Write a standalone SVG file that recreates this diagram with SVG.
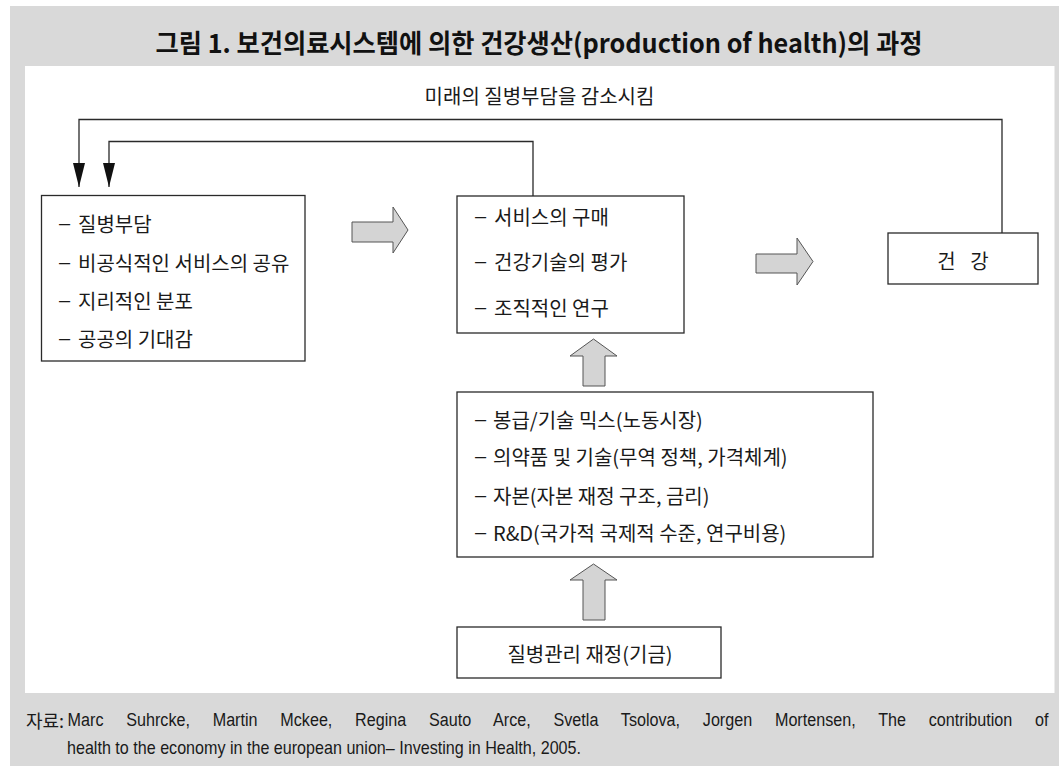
<svg xmlns="http://www.w3.org/2000/svg" width="1059" height="766" viewBox="0 0 1059 766">
<defs>
<style>
.kr{font-family:"Noto Sans CJK KR","Noto Sans",sans-serif;font-size:20px;fill:#1a1a1a}
.ttl{font-family:"Noto Sans CJK KR","Noto Sans",sans-serif;font-size:26px;font-weight:700;fill:#111}
.d{font-family:"Liberation Sans",sans-serif}
.box{fill:#fff;stroke:#2a2a2a;stroke-width:1.3}
.blk{fill:#d4d4d4;stroke:#555;stroke-width:1}
.conn{fill:none;stroke:#2a2a2a;stroke-width:1.3}
.src{font-family:"Liberation Sans","Noto Sans CJK KR",sans-serif;font-size:19px;fill:#1a1a1a}
.srck{font-family:"Noto Sans CJK KR",sans-serif;font-size:18px;fill:#1a1a1a}
</style>
<marker id="ah" markerUnits="userSpaceOnUse" viewBox="0 0 24 12" markerWidth="24" markerHeight="12" refX="24" refY="6" orient="auto">
<path d="M0,0 L24,6 L0,12 z" fill="#111"/>
</marker>
</defs>
<rect x="10" y="6" width="1049" height="760" fill="#d9d9d9"/>
<rect x="25" y="66" width="1029.5" height="627" fill="#fff"/>
<g id="title">
<text class="ttl" x="539" y="41" text-anchor="middle" dominant-baseline="central" textLength="767" lengthAdjust="spacingAndGlyphs">그림 1. 보건의료시스템에 의한 건강생산(production of health)의 과정</text>
</g>
<g id="connectors">
<text class="kr" x="539.5" y="95" text-anchor="middle" dominant-baseline="central">미래의 질병부담을 감소시킴</text>
<path class="conn" d="M1002,233 V119.5 H79 V187" marker-end="url(#ah)"/>
<path class="conn" d="M533,196 V141.5 H109 V187" marker-end="url(#ah)"/>
<polygon class="blk" points="352,222 393,222 393,207 408,230 393,253 393,242 352,242"/>
<polygon class="blk" points="756,254 797,254 797,238 813,261.5 797,285 797,273 756,273"/>
<polygon class="blk" points="583,386 583,356 570,356 593.5,339 617,356 605,356 605,386"/>
<polygon class="blk" points="583,620 583,580 570,580 593.5,564 617,580 605,580 605,620"/>
</g>
<g id="burden">
<rect class="box" x="41.5" y="195.5" width="263.5" height="165.5"/>
<text class="kr" y="223" dominant-baseline="central"><tspan class="d" x="59">– </tspan><tspan x="78">질병부담</tspan></text>
<text class="kr" y="262" dominant-baseline="central"><tspan class="d" x="59">– </tspan><tspan x="78">비공식적인 서비스의 공유</tspan></text>
<text class="kr" y="300" dominant-baseline="central"><tspan class="d" x="59">– </tspan><tspan x="78">지리적인 분포</tspan></text>
<text class="kr" y="338" dominant-baseline="central"><tspan class="d" x="59">– </tspan><tspan x="78">공공의 기대감</tspan></text>
</g>
<g id="services">
<rect class="box" x="457" y="196" width="227" height="137"/>
<text class="kr" y="216" dominant-baseline="central"><tspan class="d" x="475">– </tspan><tspan x="494">서비스의 구매</tspan></text>
<text class="kr" y="261" dominant-baseline="central"><tspan class="d" x="475">– </tspan><tspan x="494">건강기술의 평가</tspan></text>
<text class="kr" y="307" dominant-baseline="central"><tspan class="d" x="475">– </tspan><tspan x="494">조직적인 연구</tspan></text>
</g>
<g id="health">
<rect class="box" x="888" y="233" width="150" height="51"/>
<text class="kr" x="963" y="260" text-anchor="middle" dominant-baseline="central" word-spacing="10">건 강</text>
</g>
<g id="resources">
<rect class="box" x="457" y="392" width="416" height="165"/>
<text class="kr" y="419" dominant-baseline="central"><tspan class="d" x="475">– </tspan><tspan x="493">봉급/기술 믹스(노동시장)</tspan></text>
<text class="kr" y="456" dominant-baseline="central"><tspan class="d" x="475">– </tspan><tspan x="493">의약품 및 기술(무역 정책, 가격체계)</tspan></text>
<text class="kr" y="495" dominant-baseline="central"><tspan class="d" x="475">– </tspan><tspan x="493">자본(자본 재정 구조, 금리)</tspan></text>
<text class="kr" y="532" dominant-baseline="central"><tspan class="d" x="475">– </tspan><tspan x="493">R&amp;D(국가적 국제적 수준, 연구비용)</tspan></text>
</g>
<g id="financing">
<rect class="box" x="457" y="627" width="264" height="51"/>
<text class="kr" x="590" y="653" text-anchor="middle" dominant-baseline="central">질병관리 재정(기금)</text>
</g>
<g id="source">
<text class="srck" x="26" y="720" dominant-baseline="central">자료:</text>
<text class="src" transform="translate(67.6,720) scale(0.85,1)" x="0" y="0" dominant-baseline="central" word-spacing="21.5">Marc Suhrcke, Martin Mckee, Regina Sauto Arce, Svetla Tsolova, Jorgen Mortensen, The contribution of</text>
<text class="src" x="67" y="747" dominant-baseline="central" textLength="514" lengthAdjust="spacingAndGlyphs">health to the economy in the european union– Investing in Health, 2005.</text>
</g>
</svg>
